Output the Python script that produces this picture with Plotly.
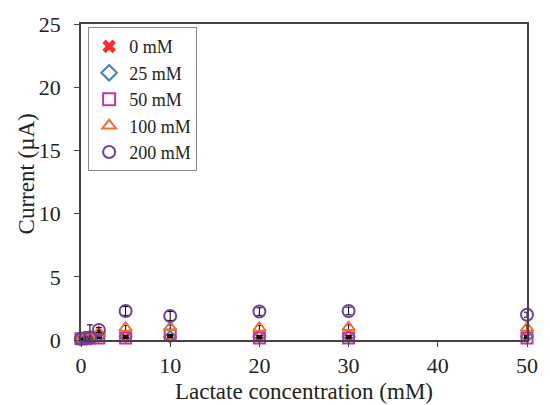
import plotly.graph_objects as go

x_vals = [0, 0.5, 1, 2, 5, 10, 20, 30, 50]

series_names = ["0 mM", "25 mM", "50 mM", "100 mM", "200 mM"]
y_0mM = [0.1, 0.15, 0.2, 0.25, 0.25, 0.25, 0.2, 0.2, 0.25]
e_0mM = [0.05, 0.05, 0.05, 0.05, 0.05, 0.05, 0.05, 0.05, 0.05]
y_25mM = [0.1, 0.15, 0.2, 0.3, 0.3, 0.25, 0.3, 0.3, 0.3]
e_25mM = [0.05, 0.05, 0.05, 0.05, 0.05, 0.05, 0.05, 0.05, 0.05]
y_50mM = [0.1, 0.1, 0.15, 0.15, 0.15, 0.4, 0.15, 0.15, 0.15]
e_50mM = [0.05, 0.05, 0.05, 0.05, 0.05, 0.05, 0.05, 0.05, 0.05]
y_100mM = [0.1, 0.15, 0.2, 0.6, 0.95, 1.0, 0.95, 1.0, 0.95]
e_100mM = [0.05, 0.1, 0.1, 0.15, 0.2, 0.2, 0.2, 0.2, 0.2]
y_200mM = [0.1, 0.15, 0.2, 0.8, 2.3, 1.9, 2.25, 2.3, 2.0]
e_200mM = [0.05, 0.1, 1.0, 0.2, 0.35, 0.35, 0.3, 0.3, 0.2]

x_title = "Lactate concentration (mM)"
y_title = "Current (µA)"

symbols = ["x", "diamond-open", "square-open", "triangle-up-open", "circle-open"]
colors = ["#ff2a2a", "#4a7ebb", "#c4359c", "#ea7125", "#7040a0"]
sizes = [7, 9, 11, 11, 12]
ys = [y_0mM, y_25mM, y_50mM, y_100mM, y_200mM]
es = [e_0mM, e_25mM, e_50mM, e_100mM, e_200mM]

fig = go.Figure()
for name, y, e, sym, col, sz in zip(series_names, ys, es, symbols, colors, sizes):
    fig.add_trace(go.Scatter(
        x=x_vals, y=y, name=name, mode="markers",
        marker=dict(symbol=sym, color=col, size=sz,
                    line=dict(color=col, width=0 if sym == "x" else 2)),
        error_y=dict(type="data", array=e, color="black", thickness=1, width=3),
        cliponaxis=False,
    ))

font_family = "Liberation Serif, Times New Roman, serif"
fig.update_layout(
    width=550, height=405,
    margin=dict(l=81, r=12, t=22, b=65),
    paper_bgcolor="white", plot_bgcolor="white",
    font=dict(family=font_family, size=23, color="#222"),
    showlegend=True,
    legend=dict(x=0.016, y=0.99, xanchor="left", yanchor="top",
                bordercolor="#888", borderwidth=1, bgcolor="white",
                font=dict(size=18, family=font_family),
                tracegroupgap=0, itemsizing="constant", itemwidth=30),
    xaxis=dict(range=[0, 50], tickvals=[0, 10, 20, 30, 40, 50],
               showline=True, linecolor="#444", linewidth=1.5, mirror=True,
               ticks="outside", ticklen=5, tickcolor="#444",
               showgrid=False, zeroline=False,
               tickfont=dict(size=22)),
    yaxis=dict(range=[0, 25], tickvals=[0, 5, 10, 15, 20, 25],
               showline=True, linecolor="#444", linewidth=1.5, mirror=True,
               ticks="outside", ticklen=5, tickcolor="#444",
               showgrid=False, zeroline=False, ticklabelstandoff=9,
               tickfont=dict(size=22)),
    annotations=[
        dict(text=x_title, xref="paper", yref="paper", x=0.5, y=-0.164,
             xanchor="center", yanchor="middle", showarrow=False,
             font=dict(size=23, family=font_family, color="#222")),
        dict(text=y_title, xref="paper", yref="paper", x=-0.1225, y=0.525,
             xanchor="center", yanchor="middle", showarrow=False, textangle=-90,
             font=dict(size=23, family=font_family, color="#222")),
    ],
)

fig.write_html("out.html")
